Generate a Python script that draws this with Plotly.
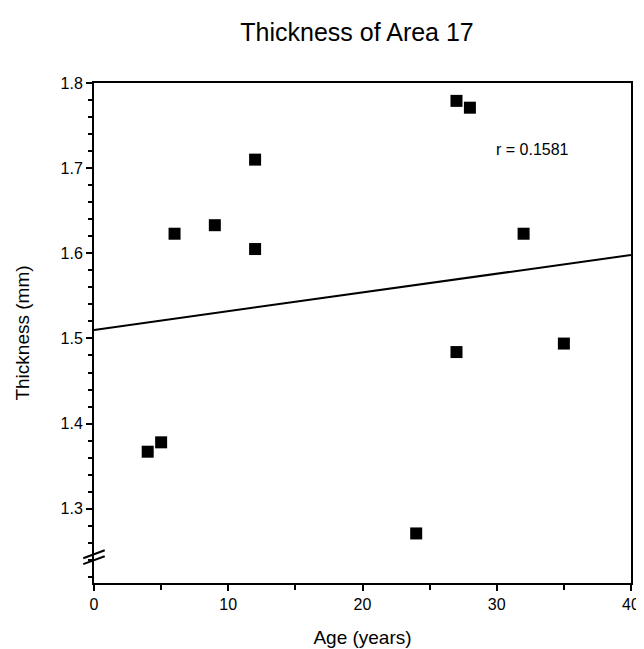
import numpy as np
import plotly.graph_objects as go

# values
age = [4, 5, 6, 9, 12, 12, 24, 27, 27, 28, 32, 35]
thickness = [1.367, 1.378, 1.623, 1.633, 1.71, 1.605, 1.271, 1.484, 1.779, 1.771, 1.623, 1.494]

# regression line as printed
fit_intercept = 1.51
fit_slope = 0.0022
r_label = "r = 0.1581"

x_ticks = [0, 10, 20, 30, 40]
y_ticks = [1.3, 1.4, 1.5, 1.6, 1.7, 1.8]

font = "Liberation Sans, Arial, Helvetica, sans-serif"

fig = go.Figure()

fit_x = np.array([0, 40])
fig.add_trace(
    go.Scatter(
        x=fit_x,
        y=fit_intercept + fit_slope * fit_x,
        mode="lines",
        line=dict(color="black", width=2),
        showlegend=False,
        hoverinfo="skip"
    )
)

fig.add_trace(
    go.Scatter(
        x=age,
        y=thickness,
        mode="markers",
        marker=dict(symbol="square", size=12, color="black"),
        showlegend=False
    )
)

fig.add_annotation(
    x=29.8, y=1.722, text=r_label, showarrow=False,
    xanchor="left", font=dict(size=16, color="black", family=font)
)

# axis break marks
for y0, y1 in [(1.2419, 1.2512), (1.2349, 1.2442)]:
    fig.add_shape(
        type="line", xref="paper", yref="y",
        x0=-0.020, x1=0.020, y0=y0, y1=y1,
        line=dict(color="black", width=2)
    )

fig.update_layout(
    width=644,
    height=649,
    margin=dict(l=86, r=14, t=75, b=69),
    paper_bgcolor="white",
    plot_bgcolor="white",
    font=dict(family=font, color="black", size=16),
    title=dict(
        text="Thickness of Area 17",
        x=0.542, xanchor="center", y=0.962, yanchor="middle",
        font=dict(size=25)
    )
)

fig.update_xaxes(
    range=[0, 40],
    tickvals=x_ticks,
    showgrid=False,
    zeroline=False,
    showline=True, linecolor="black", linewidth=2, mirror=True,
    ticks="outside", ticklen=6, tickwidth=2, tickcolor="black",
    minor=dict(dtick=5, tick0=0, ticks="outside", ticklen=5, tickwidth=2, tickcolor="black"),
    title=dict(text="Age (years)", font=dict(size=19), standoff=18),
    tickfont=dict(size=16)
)

fig.update_yaxes(
    range=[1.2128, 1.8],
    tickvals=y_ticks,
    tickformat=".1f",
    showgrid=False,
    zeroline=False,
    showline=True, linecolor="black", linewidth=2, mirror=True,
    ticks="outside", ticklen=6, tickwidth=2, tickcolor="black",
    minor=dict(dtick=0.02, tick0=1.2, ticks="outside", ticklen=4, tickwidth=2, tickcolor="black"),
    title=dict(text="Thickness (mm)", font=dict(size=19), standoff=26),
    tickfont=dict(size=16)
)

fig.write_html("out.html")
